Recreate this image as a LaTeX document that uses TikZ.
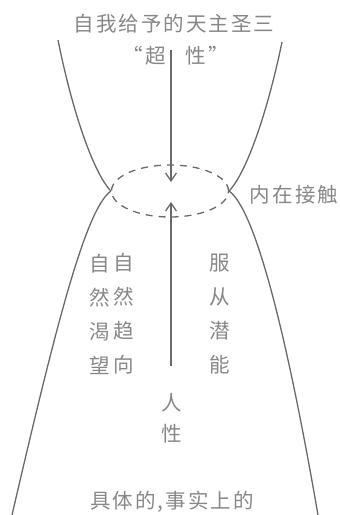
\documentclass[tikz,border=0pt]{standalone}
\usepackage{fontspec}
\newfontfamily\cjk[LetterSpace=10]{Noto Sans CJK SC}
\usetikzlibrary{positioning}
\usetikzlibrary{arrows.meta}
\usetikzlibrary{shapes.geometric}
\definecolor{inkline}{RGB}{105,105,105}
\definecolor{inktext}{RGB}{135,135,135}
\tikzset{>={Straight Barb[length=8pt, width=11pt]}}
\tikzset{lbl/.style={inner sep=0pt, text=inktext, font=\cjk\fontsize{20.5}{34}\selectfont, align=center}}
\tikzset{curve/.style={draw=inkline, line width=1.3pt}}

\begin{document}
\begin{tikzpicture}[x=1pt, y=-1pt]
        \useasboundingbox (0,0) rectangle (340,515);

        % labels
        \node[lbl] (trin) at (174, 24) {自我给予的天主圣三};
        \node[lbl] (chao) at (144, 56) {“超};
        \node[lbl] (xing) at (207, 56) {性”};
        \node[lbl] (inner) at (294, 195) {内在接触};
        \node[lbl] (wantA) at (100, 314) {自\\然\\渴\\望};
        \node[lbl] (wantB) at (124, 314) {自\\然\\趋\\向};
        \node[lbl] (obey) at (220, 314) {服\\从\\潜\\能};
        \node[lbl, font=\cjk\fontsize{20.5}{31}\selectfont] (human) at (172, 418) {人\\性};
        \node[lbl] (fact) at (172, 502) {具体的,事实上的};

        % contact zone
        \node[draw=inkline, line width=1.3pt, dash pattern=on 7pt off 6pt,
              ellipse, minimum width=117pt, minimum height=52pt, inner sep=0pt] (touch) at (170, 191) {};

        \coordinate (ul) at (58, 40);
        \coordinate (ur) at (282, 42);
        \coordinate (bl) at (12, 515);
        \coordinate (br) at (318, 515);
        \coordinate (from) at (171, 50);
        \coordinate (down) at (171, 182);
        \coordinate (up) at (171, 202);
        \coordinate (base) at (171, 366);

        \draw[curve] (ul) .. controls (72, 110) and (93, 172) .. (touch.west);
        \draw[curve] (ur) .. controls (268, 110) and (247, 172) .. (touch.east);
        \draw[curve] (touch.west) .. controls (85, 210) and (55, 330) .. (bl);
        \draw[curve] (touch.east) .. controls (255, 210) and (286, 330) .. (br);

        \draw[curve, ->] (from) -- (down);
        \draw[curve, ->] (base) -- (up);
    \end{tikzpicture}
\end{document}
